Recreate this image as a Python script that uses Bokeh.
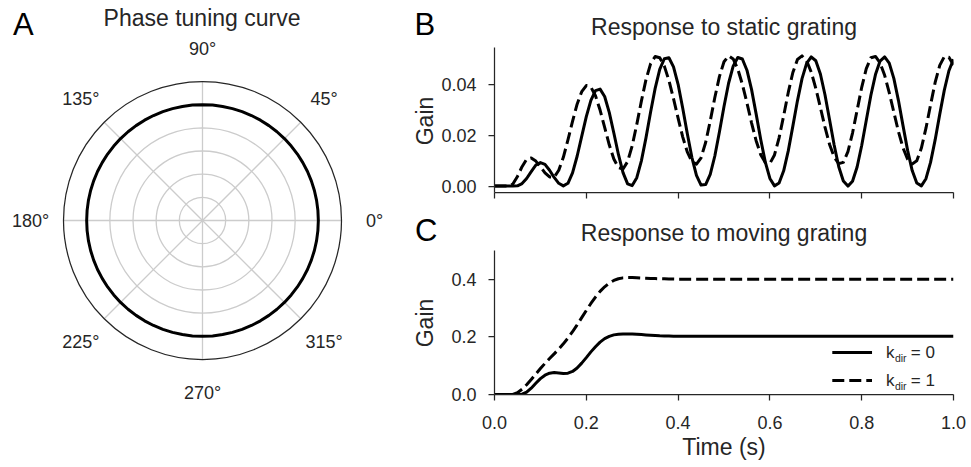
import numpy as np
from bokeh.plotting import figure
from bokeh.layouts import row, column
from bokeh.models import Range1d, Label, FixedTicker, NumeralTickFormatter, CustomJSTickFormatter
from bokeh.core.properties import value
from bokeh.embed import file_html
from bokeh.resources import INLINE

FONT = "Liberation Sans"
TXT = "#262626"

# ---------------- data ----------------
# Panel A: phase tuning curve (polar)
phase_deg = [0, 5, 10, 15, 20, 25, 30, 35, 40, 45, 50, 55, 60, 65, 70, 75, 80, 85, 90,
             95, 100, 105, 110, 115, 120, 125, 130, 135, 140, 145, 150, 155, 160, 165, 170, 175, 180,
             185, 190, 195, 200, 205, 210, 215, 220, 225, 230, 235, 240, 245, 250, 255, 260, 265, 270,
             275, 280, 285, 290, 295, 300, 305, 310, 315, 320, 325, 330, 335, 340, 345, 350, 355, 360]
tuning_gain = [0.05, 0.05, 0.05, 0.05, 0.05, 0.05, 0.05, 0.05, 0.05, 0.05, 0.05, 0.05, 0.05, 0.05,
               0.05, 0.05, 0.05, 0.05, 0.05, 0.05, 0.05, 0.05, 0.05, 0.05, 0.05, 0.05, 0.05, 0.05,
               0.05, 0.05, 0.05, 0.05, 0.05, 0.05, 0.05, 0.05, 0.05, 0.05, 0.05, 0.05, 0.05, 0.05,
               0.05, 0.05, 0.05, 0.05, 0.05, 0.05, 0.05, 0.05, 0.05, 0.05, 0.05, 0.05, 0.05, 0.05,
               0.05, 0.05, 0.05, 0.05, 0.05, 0.05, 0.05, 0.05, 0.05, 0.05, 0.05, 0.05, 0.05, 0.05,
               0.05, 0.05, 0.05]
polar_grid_r = [0.01, 0.02, 0.03, 0.04, 0.05]
polar_r_max = 0.06
angle_ticks_deg = [0, 45, 90, 135, 180, 225, 270, 315]
angle_tick_labels = ["0°", "45°", "90°", "135°", "180°", "225°", "270°", "315°"]

# Panel B: response to static grating
time_b = [round(i * 0.01, 2) for i in range(101)]
static_kdir0 = [0.0, 0.0, 0.0, 0.0, 0.0, 0.0001, 0.0010, 0.0030, 0.0057, 0.0082,
                0.0092, 0.0085, 0.0062, 0.0034, 0.0011, 0.0001, 0.0011, 0.0052, 0.0117, 0.0195,
                0.0272, 0.0336, 0.0374, 0.0380, 0.0351, 0.0289, 0.0208, 0.0124, 0.0053, 0.0009,
                0.0002, 0.0033, 0.0099, 0.0189, 0.0289, 0.0383, 0.0457, 0.0499, 0.0503, 0.0467,
                0.0399, 0.0306, 0.0206, 0.0113, 0.0042, 0.0004, 0.0006, 0.0046, 0.0118, 0.0212,
                0.0312, 0.0403, 0.0470, 0.0504, 0.0498, 0.0454, 0.0379, 0.0283, 0.0183, 0.0094,
                0.0030, 0.0001, 0.0012, 0.0060, 0.0138, 0.0235, 0.0334, 0.0421, 0.0481, 0.0506,
                0.0491, 0.0439, 0.0358, 0.0260, 0.0161, 0.0076, 0.0020, 0.0000, 0.0019, 0.0075,
                0.0159, 0.0258, 0.0356, 0.0437, 0.0490, 0.0506, 0.0482, 0.0422, 0.0336, 0.0237,
                0.0140, 0.0061, 0.0012, 0.0001, 0.0029, 0.0093, 0.0181, 0.0281, 0.0376, 0.0452,
                0.0497]
static_kdir1 = [0.0, 0.0, 0.0, 0.0, 0.0008, 0.0038, 0.0076, 0.0105, 0.0110, 0.0098,
                0.0076, 0.0052, 0.0036, 0.0035, 0.0062, 0.0113, 0.0181, 0.0254, 0.0321, 0.0370,
                0.0394, 0.0388, 0.0354, 0.0298, 0.0230, 0.0162, 0.0106, 0.0072, 0.0067, 0.0096,
                0.0158, 0.0242, 0.0333, 0.0417, 0.0479, 0.0508, 0.0503, 0.0470, 0.0414, 0.0343,
                0.0266, 0.0193, 0.0134, 0.0096, 0.0086, 0.0111, 0.0171, 0.0255, 0.0347, 0.0429,
                0.0487, 0.0510, 0.0498, 0.0459, 0.0399, 0.0326, 0.0248, 0.0178, 0.0123, 0.0092,
                0.0089, 0.0122, 0.0189, 0.0276, 0.0367, 0.0445, 0.0496, 0.0510, 0.0491, 0.0447,
                0.0383, 0.0308, 0.0231, 0.0163, 0.0114, 0.0088, 0.0093, 0.0135, 0.0208, 0.0297,
                0.0387, 0.0460, 0.0503, 0.0508, 0.0483, 0.0434, 0.0366, 0.0290, 0.0214, 0.0150,
                0.0105, 0.0087, 0.0099, 0.0149, 0.0227, 0.0318, 0.0406, 0.0473, 0.0507, 0.0505,
                0.0474]

# Panel C: response to moving grating
time_c = [round(i * 0.01, 2) for i in range(41)] + [0.5, 0.6, 0.7, 0.8, 0.9, 1.0]
moving_kdir0 = [0.0, 0.0, 0.0, 0.0, 0.0, 0.0, 0.001, 0.008, 0.022, 0.039,
                0.055, 0.067, 0.074, 0.076, 0.075, 0.073, 0.074, 0.080, 0.092, 0.109,
                0.128, 0.148, 0.166, 0.182, 0.194, 0.202, 0.207, 0.209, 0.210, 0.210,
                0.210, 0.209, 0.208, 0.207, 0.206, 0.205, 0.204, 0.2035, 0.203, 0.2025,
                0.2025, 0.202, 0.202, 0.202, 0.202, 0.202, 0.202]
moving_kdir1 = [0.0, 0.0, 0.0, 0.0, 0.0, 0.006, 0.018, 0.034, 0.052, 0.071,
                0.090, 0.108, 0.125, 0.141, 0.158, 0.176, 0.196, 0.218, 0.242, 0.267,
                0.292, 0.316, 0.338, 0.358, 0.374, 0.387, 0.396, 0.402, 0.405, 0.406,
                0.406, 0.405, 0.404, 0.4035, 0.403, 0.4025, 0.402, 0.4015, 0.401, 0.401,
                0.4005, 0.400, 0.400, 0.400, 0.400, 0.400, 0.400]

time_ticks = [0.0, 0.2, 0.4, 0.6, 0.8, 1.0]
b_gain_ticks = [0.0, 0.02, 0.04]
c_gain_ticks = [0.0, 0.2, 0.4]
legend_kdir = ["0", "1"]

# ---------------- panel A ----------------
S = 139.0 / polar_r_max          # px per data unit
CX, CY = 202.0, 220.0            # circle centre (px)


def ax_(px):
    return (px - CX) / S


def ay_(py):
    return (CY - py) / S


pA = figure(width=400, height=467, x_range=Range1d(ax_(0), ax_(400)), y_range=Range1d(ay_(467), ay_(0)),
            output_backend="svg", toolbar_location=None, x_axis_location=None, y_axis_location=None,
            min_border=0)
pA.grid.visible = False
pA.outline_line_color = None
pA.background_fill_color = "white"
pA.border_fill_color = "white"

pA.circle(x=[0] * len(polar_grid_r), y=[0] * len(polar_grid_r), radius=polar_grid_r,
          fill_color=None, line_color="#cccccc", line_width=1.3)
th = np.deg2rad(angle_ticks_deg)
pA.segment(x0=[0] * len(th), y0=[0] * len(th), x1=polar_r_max * np.cos(th), y1=polar_r_max * np.sin(th),
           line_color="#cccccc", line_width=1.3)
ph = np.deg2rad(phase_deg)
r = np.array(tuning_gain)
pA.line(r * np.cos(ph), r * np.sin(ph), line_color="black", line_width=3, line_join="round")
pA.circle(x=[0], y=[0], radius=[polar_r_max], fill_color=None, line_color=TXT, line_width=1.25)
lab_r = 172.0 / S
pA.text(x=lab_r * np.cos(th), y=lab_r * np.sin(th), text=angle_tick_labels, text_align="center",
        text_baseline="middle", text_font=value(FONT), text_font_size="18px", text_color=TXT)
pA.add_layout(Label(x=ax_(201.5), y=ay_(17), text="Phase tuning curve", text_align="center",
                    text_baseline="middle", text_font=FONT, text_font_size="23px", text_color=TXT))
pA.add_layout(Label(x=ax_(12.5), y=ay_(24), text="A", text_align="left", text_baseline="middle",
                    text_font=FONT, text_font_size="31px", text_color="black"))

# ---------------- strip with panel letters and y labels (x 400..438) ----------------
MID_W = 38
pM = figure(width=MID_W, height=467, x_range=Range1d(400, 400 + MID_W), y_range=Range1d(467, 0),
            output_backend="svg", toolbar_location=None, x_axis_location=None, y_axis_location=None,
            min_border=0)
pM.grid.visible = False
pM.outline_line_color = None
pM.background_fill_color = "white"
pM.border_fill_color = "white"
pM.text(x=[414, 414.5], y=[24, 230], text=["B", "C"], text_align="left", text_baseline="middle",
        text_font=value(FONT), text_font_size="31px", text_color="black")
pM.text(x=[424.5, 424.5], y=[120.5, 322.5], text=["Gain", "Gain"], angle=np.pi / 2,
        text_align="center", text_baseline="middle",
        text_font=value(FONT), text_font_size="23px", text_color=TXT)

# ---------------- panels B, C ----------------
FL, FR = 491.0, 953.0
RIGHT_W = 971 - 400 - MID_W
BORDER_L = int(FL - 400 - MID_W)


def style(p):
    p.xgrid.visible = False
    p.ygrid.visible = False
    p.outline_line_color = None
    p.background_fill_color = "white"
    p.border_fill_color = "white"
    for ax in (p.xaxis[0], p.yaxis[0]):
        ax.axis_line_color = TXT
        ax.axis_line_width = 1.25
        ax.major_tick_line_color = TXT
        ax.major_tick_line_width = 1.25
        ax.major_tick_out = 6
        ax.major_tick_in = 0
        ax.minor_tick_line_color = None
        ax.major_label_text_font = FONT
        ax.major_label_text_font_size = "18px"
        ax.major_label_text_color = TXT
        ax.axis_label_text_font = FONT
        ax.axis_label_text_font_size = "23px"
        ax.axis_label_text_color = TXT
        ax.axis_label_text_font_style = "normal"
    p.xaxis[0].ticker = FixedTicker(ticks=time_ticks)
    p.xaxis[0].major_label_standoff = 15
    p.yaxis[0].major_label_standoff = 12


# B : canvas y 0..215, frame y 0..192 (axes drawn from 47 to 192)
B_Y0, B_YTOP = -0.0025, 0.0543
KB = (B_YTOP - B_Y0) / 145.0           # data per px
B_BOT = 192.0
B_YEND = B_Y0 + B_BOT * KB
pB = figure(width=RIGHT_W, height=215, x_range=Range1d(0, 1), y_range=Range1d(B_Y0, B_YEND),
            output_backend="svg", toolbar_location=None, min_border=0,
            min_border_left=BORDER_L, min_border_right=18, min_border_top=0, min_border_bottom=23)
style(pB)
pB.yaxis[0].bounds = (B_Y0, B_YTOP)
pB.yaxis[0].ticker = FixedTicker(ticks=b_gain_ticks)
pB.yaxis[0].formatter = NumeralTickFormatter(format="0.00")
pB.xaxis[0].formatter = CustomJSTickFormatter(code="return ''")
pB.line(time_b, static_kdir0, line_color="black", line_width=3, line_join="round")
pB.line(time_b, static_kdir1, line_color="black", line_width=3, line_join="round", line_dash="12 5")


def bx(px):
    return (px - FL) / (FR - FL)


def by(py):
    return B_Y0 + (B_BOT - py) * KB


pB.add_layout(Label(x=bx(722), y=by(26), text="Response to static grating", text_align="center",
                    text_baseline="middle", text_font=FONT, text_font_size="23px", text_color=TXT))

# C : canvas y 215..467, frame y 215..394 (axes drawn from 250 to 394)
OFF = 215.0
C_BOT = 394.0
KC = 0.5 / 144.0
C_YEND = (C_BOT - OFF) * KC
pC = figure(width=RIGHT_W, height=252, x_range=Range1d(0, 1), y_range=Range1d(0, C_YEND),
            output_backend="svg", toolbar_location=None, min_border=0,
            min_border_left=BORDER_L, min_border_right=18, min_border_top=0, min_border_bottom=73)
style(pC)
pC.yaxis[0].bounds = (0, 0.5)
pC.yaxis[0].ticker = FixedTicker(ticks=c_gain_ticks)
pC.yaxis[0].formatter = NumeralTickFormatter(format="0.0")
pC.xaxis[0].formatter = NumeralTickFormatter(format="0.0")
pC.xaxis[0].axis_label = "Time (s)"
pC.xaxis[0].axis_label_standoff = 2
pC.line(time_c, moving_kdir0, line_color="black", line_width=3, line_join="round")
pC.line(time_c, moving_kdir1, line_color="black", line_width=3, line_join="round", line_dash="12 5")


def cx(px):
    return (px - FL) / (FR - FL)


def cy(py):
    return (C_BOT - py) * KC


pC.add_layout(Label(x=cx(722), y=cy(232), text="Response to moving grating", text_align="center",
                    text_baseline="middle", text_font=FONT, text_font_size="23px", text_color=TXT))

# legend (drawn by hand: k with subscript "dir")
leg_rows = [352.0, 380.0]
leg_dash = [None, "12 5"]
for ly, dash, lab in zip(leg_rows, leg_dash, legend_kdir):
    kw = dict(line_color="black", line_width=3)
    if dash:
        kw["line_dash"] = dash
    pC.line([cx(831), cx(871)], [cy(ly), cy(ly)], **kw)
    pC.add_layout(Label(x=cx(885), y=cy(ly), text="k", text_align="left", text_baseline="middle",
                        text_font=FONT, text_font_size="17px", text_color=TXT))
    pC.add_layout(Label(x=cx(894), y=cy(ly + 5), text="dir", text_align="left", text_baseline="middle",
                        text_font=FONT, text_font_size="10.5px", text_color=TXT))
    pC.add_layout(Label(x=cx(910), y=cy(ly), text="= " + lab, text_align="left",
                        text_baseline="middle", text_font=FONT, text_font_size="17px", text_color=TXT))

layout = row(pA, pM, column(pB, pC, spacing=0), spacing=0)
open("out.html", "w").write(file_html(layout, INLINE))
